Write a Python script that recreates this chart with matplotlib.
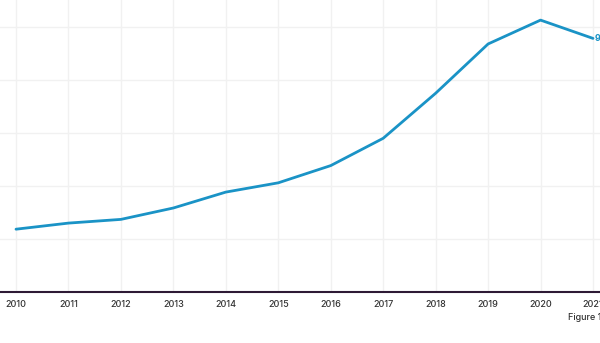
import matplotlib
matplotlib.use('Agg')
import matplotlib.pyplot as plt

# Data
years = [2010, 2011, 2012, 2013, 2014, 2015, 2016, 2017, 2018, 2019, 2020, 2021]
values = [2.37, 2.60, 2.74, 3.17, 3.77, 4.12, 4.77, 5.80, 7.50, 9.36, 10.26, 9.57]
last_label = '9.6'

plt.rcParams['font.family'] = ['Inter', 'DejaVu Sans']

fig = plt.figure(figsize=(6, 3.43), dpi=100)
ax = fig.add_axes([0, 51 / 343, 1, 1 - 51 / 343])

ax.plot(years, values, color='#1a93c6', linewidth=2, solid_capstyle='round', zorder=3)
ax.text(years[-1] + 0.04, values[-1], last_label, color='#1a93c6', fontsize=6.5,
        va='center', ha='left', fontweight='bold')

ax.set_xlim(2010 - 16 / 52.45, 2021 + 7 / 52.45)
ax.set_ylim(0, 292 / 26.5)
ax.set_xticks(years)
ax.set_xticklabels([str(y) for y in years])
ax.set_yticks([0, 2, 4, 6, 8, 10])
ax.tick_params(axis='y', left=False, labelleft=False)
ax.tick_params(axis='x', length=0, pad=6, labelsize=6.5, labelcolor='#333333')
for lab in ax.get_xticklabels():
    lab.set_fontweight('medium')

ax.grid(True, color='#f1f1f1', linewidth=1)
ax.set_axisbelow(True)
for side in ['top', 'right', 'left']:
    ax.spines[side].set_visible(False)
ax.spines['bottom'].set_color('#2e1a35')
ax.spines['bottom'].set_linewidth(1.5)

fig.text(568 / 600, 1 - 317 / 343, 'Figure 1', fontsize=6.5, color='#333333',
         ha='left', va='center', fontweight='medium')

fig.savefig('out.png', dpi=100)
